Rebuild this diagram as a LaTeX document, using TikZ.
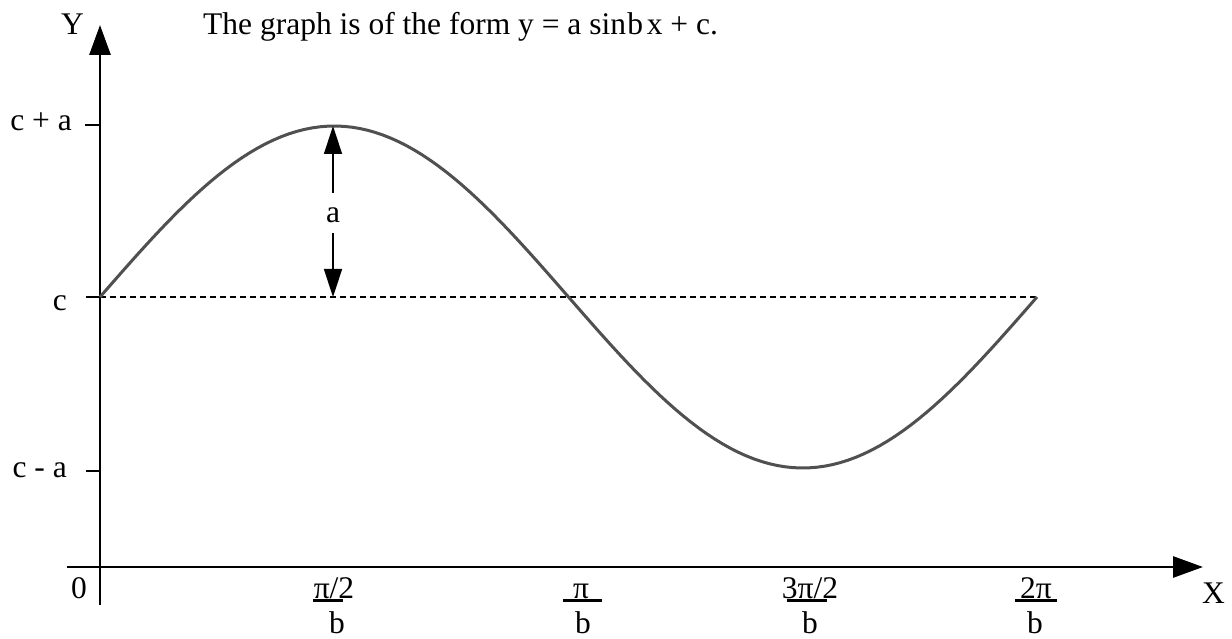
\documentclass[tikz,border=0pt]{standalone}
\usepackage{fontspec}
\setmainfont{Liberation Serif}
\usetikzlibrary{arrows.meta}
\definecolor{curvegray}{RGB}{80,80,80}
% bar under a numerator: offset, width, text
\newcommand{\numbar}[3]{\setbox0\hbox{#3}%
	\makebox[0pt][l]{\hspace*{\dimexpr(\wd0-#2)/2+#1\relax}\rule[-3.5pt]{#2}{2.5pt}}\box0}

\begin{document}
\begin{tikzpicture}[x=1pt,y=-1pt,
	every node/.style={font=\fontsize{31.5}{36}\selectfont,inner sep=0pt},
	axis/.style={line width=2.8pt,-{Triangle[length=30pt,width=21pt]}},
	tick/.style={line width=2.5pt},
	dimarrow/.style={line width=1.5pt,-{Triangle[length=28pt,width=18pt]}}]
	\useasboundingbox (0,0) rectangle (1232,639);

	\coordinate (origin) at (100,567);
	\coordinate (xend) at (1203,567);
	\coordinate (yend) at (100,25);
	\coordinate (peak) at (333,126);
	\coordinate (cpeak) at (333,297);

	% axes
	\draw[axis] (67,567) -- (xend);
	\draw[axis] (100,605) -- (yend);
	\node[anchor=base east] (ylab) at (84,35) {Y};
	\node[anchor=base west] (xlab) at (1202,603) {X};
	\node[anchor=base east] (zero) at (87,598) {0};

	% ticks on the y axis
	\draw[tick] (85,125) -- (100,125);
	\draw[tick] (86,297) -- (100,297);
	\draw[tick] (86,471) -- (100,471);
	\node[anchor=base east] (cplusa) at (72,131) {c + a};
	\node[anchor=base east] (cval) at (67,310) {c};
	\node[anchor=base east] (cminusa) at (67,477) {c - a};

	% the curve and its mid line
	\draw[line width=1.2pt,dash pattern=on 6pt off 4pt] (100,297) -- (1037,297);
	\draw[curvegray,line width=3pt,line join=round]
		plot[domain=0:360,samples=120] ({100+2.6028*\x},{297-171*sin(\x)});

	% amplitude
	\node[anchor=base,inner ysep=10pt,text height=20pt,text depth=0pt] (alab) at (333,223) {a};
	\draw[dimarrow] (alab.north) -- (peak);
	\draw[dimarrow] (alab.south) -- (cpeak);

	% labels on the x axis
	\node[anchor=base] (pihalfnum) at (334,598) {\numbar{-6pt}{30pt}{π/2}};
	\node[anchor=base] (pihalfden) at (337,633) {b};
	\node[anchor=base] (pinum) at (581,598) {\numbar{1.5pt}{39pt}{π}};
	\node[anchor=base] (piden) at (583,633) {b};
	\node[anchor=base] (threepinum) at (810,598) {\numbar{-3pt}{40pt}{3π/2}};
	\node[anchor=base] (threepiden) at (810,633) {b};
	\node[anchor=base] (twopinum) at (1036,598) {\numbar{0pt}{42pt}{2π}};
	\node[anchor=base] (twopiden) at (1035,633) {b};

	\node[anchor=base west] (title) at (203,35)
		{The graph is of the form y = a sin\hspace{0.04em}b\hspace{0.12em}x + c.};
\end{tikzpicture}
\end{document}
